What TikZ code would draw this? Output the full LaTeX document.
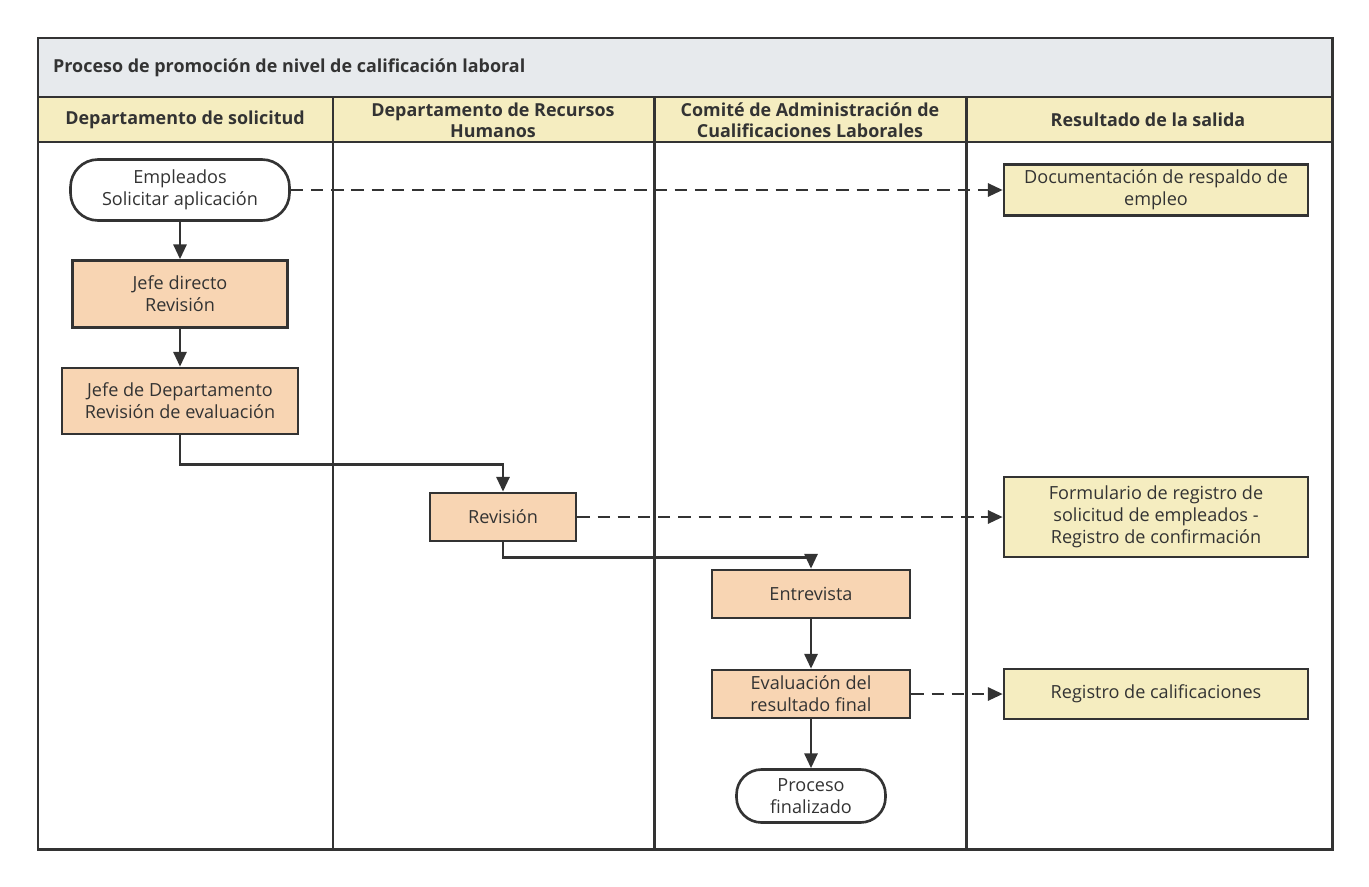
\documentclass[tikz,border=0pt]{standalone}
\usepackage{fontspec}
\setmainfont{Open Sans}
\usetikzlibrary{arrows.meta,positioning,calc}
\definecolor{ink}{HTML}{333333}
\definecolor{titlebg}{HTML}{E7EAED}
\definecolor{headbg}{HTML}{F5EDC0}
\definecolor{taskbg}{HTML}{F8D5B3}
\definecolor{outbg}{HTML}{F5EDC0}

\begin{document}
\begin{tikzpicture}[
  x=0.02cm, y=-0.02cm,
  every node/.style={font=\fontsize{10.3}{12.6}\selectfont, text=ink, align=center},
  lane/.style={draw=ink, line width=1.7pt},
  head/.style={font=\fontsize{10.2}{12.2}\selectfont\bfseries},
  term/.style={draw=ink, line width=1.5pt, fill=white, rounded corners=0.55cm, inner sep=1pt},
  task/.style={draw=ink, line width=1.5pt, fill=taskbg, inner sep=1pt},
  doc/.style={draw=ink, line width=1.5pt, fill=outbg, inner sep=1pt},
  arr/.style={-{Triangle[length=8.5pt,width=7.5pt]}, draw=ink, line width=1.5pt},
  ref/.style={-{Triangle[length=8.5pt,width=7.5pt]}, draw=ink, line width=1.5pt, dash pattern=on 7pt off 4.5pt},
]
\useasboundingbox (0,0) rectangle (1369,886);
% pool and lanes
\fill[titlebg] (38,38) rectangle (1332,97);
\fill[headbg] (38,97) rectangle (1332,142);
\draw[lane] (38,38) rectangle (1332,849);
\draw[lane] (38,97) -- (1332,97);
\draw[lane] (38,142) -- (1332,142);
\draw[lane] (333,97) -- (333,849);
\draw[lane] (654,97) -- (654,849);
\draw[lane] (966,97) -- (966,849);
\node[head, anchor=west] (title) at (47,68) {Proceso de promoción de nivel de calificación laboral};
\node[head] (h1) at (185,120) {Departamento de solicitud};
\node[head] (h2) at (493,120) {Departamento de Recursos\\Humanos};
\node[head] (h3) at (810,120) {Comité de Administración de\\Cualificaciones Laborales};
\node[head] (h4) at (1148,120) {Resultado de la salida};
% steps
\node[term, minimum width=4.38cm, minimum height=1.22cm] (start) at (180,190) {Empleados\\Solicitar aplicación};
\node[task, minimum width=4.3cm, minimum height=1.34cm] (jdir) at (180,294) {Jefe directo\\Revisión};
\node[task, minimum width=4.72cm, minimum height=1.32cm] (jdep) at (180,401) {Jefe de Departamento\\Revisión de evaluación};
\node[task, minimum width=2.92cm, minimum height=0.96cm] (rev) at (503,517) {Revisión};
\node[task, minimum width=3.96cm, minimum height=0.96cm] (ent) at (811,594) {Entrevista};
\node[task, minimum width=3.96cm, minimum height=0.96cm] (eval) at (811,694) {Evaluación del\\resultado final};
\node[term, minimum width=2.98cm, minimum height=1.06cm, rounded corners=0.5cm] (fin) at (811,796) {Proceso\\finalizado};
% outputs
\node[doc, minimum width=6.08cm, minimum height=1.02cm] (out1) at (1156,190) {Documentación de respaldo de\\empleo};
\node[doc, minimum width=6.08cm, minimum height=1.6cm] (out2) at (1156,517) {Formulario de registro de\\solicitud de empleados -\\Registro de confirmación};
\node[doc, minimum width=6.08cm, minimum height=1.0cm] (out3) at (1156,694) {Registro de calificaciones};
% flow
\draw[arr] (start) -- (jdir);
\draw[arr] (jdir) -- (jdep);
\draw[arr] (jdep.south) -- ++(0,29) -| (rev.north);
\draw[arr] (rev.south) -- ++(0,15) -| (ent.north);
\draw[arr] (ent) -- (eval);
\draw[arr] (eval) -- (fin);
\draw[ref] (start) -- (out1);
\draw[ref] (rev) -- (out2);
\draw[ref] (eval) -- (out3);
\end{tikzpicture}
\end{document}
